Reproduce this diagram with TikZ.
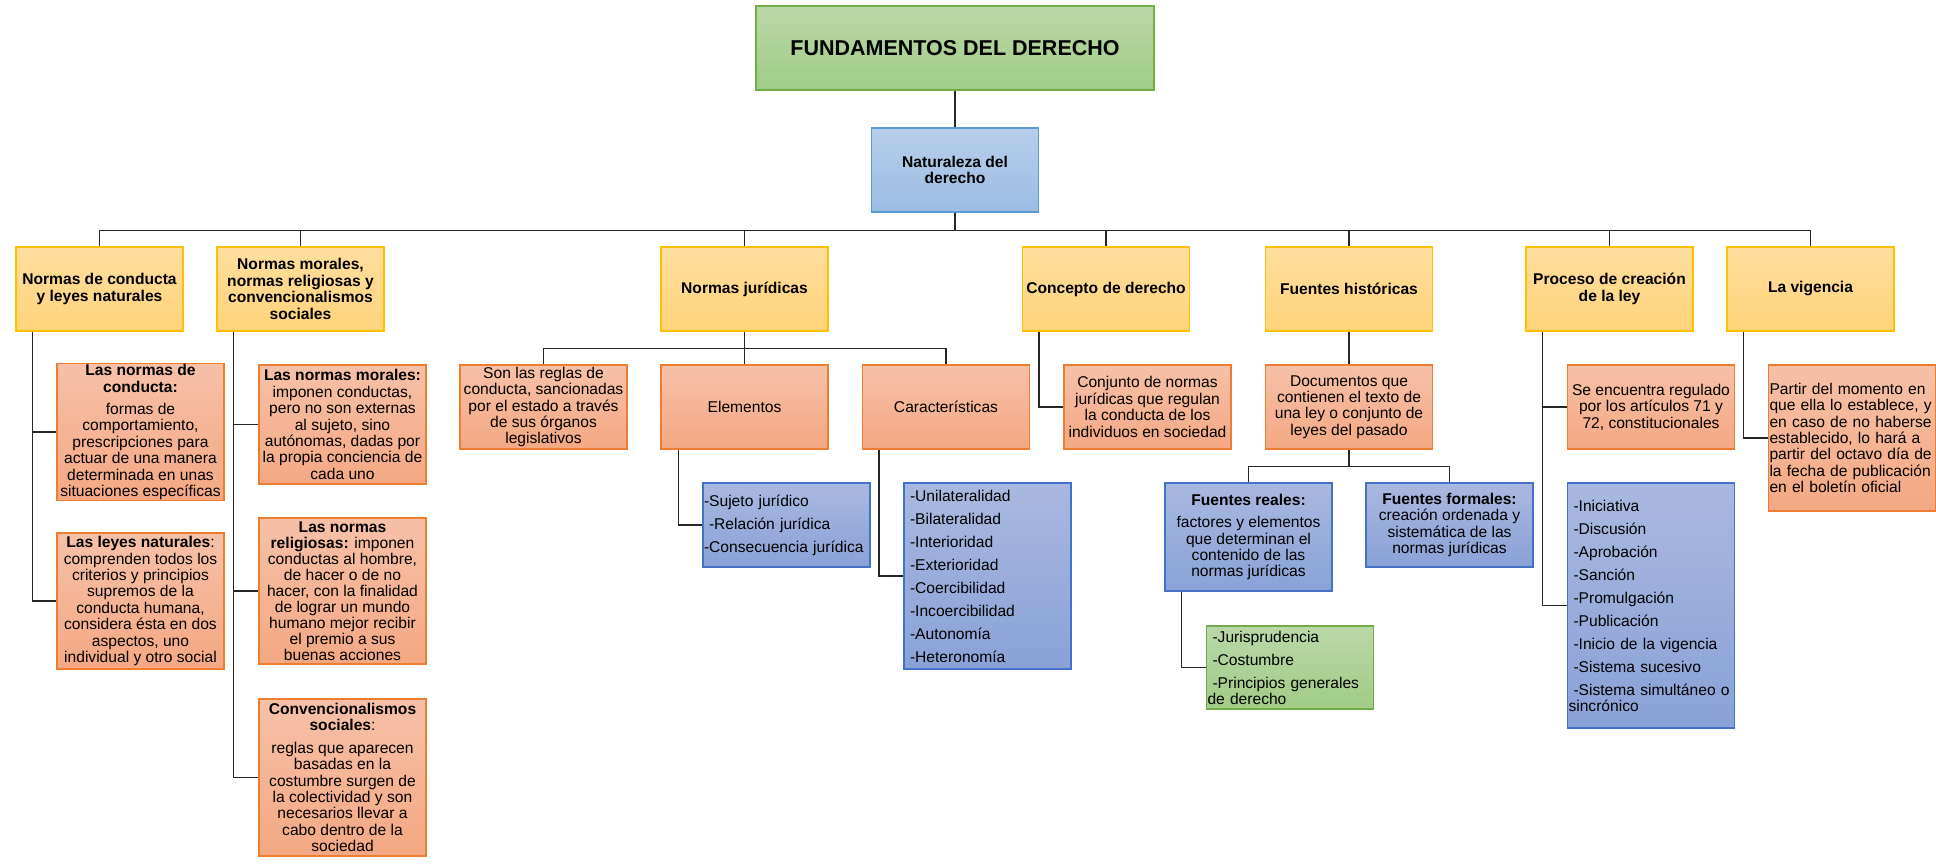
\documentclass[tikz,border=0pt]{standalone}
\usepackage{fontspec}
\setmainfont{Liberation Sans}
\usepackage{tikz}

\definecolor{amarilloA}{RGB}{255,222,158}
\definecolor{amarilloB}{RGB}{255,211,122}
\definecolor{amarilloL}{RGB}{255,192,0}
\definecolor{naranjaA}{RGB}{246,193,168}
\definecolor{naranjaB}{RGB}{244,168,131}
\definecolor{naranjaL}{RGB}{237,125,49}
\definecolor{azulA}{RGB}{169,184,224}
\definecolor{azulB}{RGB}{137,162,215}
\definecolor{azulL}{RGB}{68,114,196}
\definecolor{celesteA}{RGB}{183,206,235}
\definecolor{celesteB}{RGB}{155,189,228}
\definecolor{celesteL}{RGB}{91,155,213}
\definecolor{verdeA}{RGB}{186,216,168}
\definecolor{verdeB}{RGB}{160,204,134}
\definecolor{verdeL}{RGB}{112,173,71}

\newcommand{\sangria}{\hspace*{5pt}}

\tikzset{
  caja/.style={line width=1.2pt, inner sep=1pt, minimum width=167pt, minimum height=84pt,
    align=center, font=\fontsize{15.6}{16.4}\selectfont},
  amarilla/.style={caja, draw=amarilloL, top color=amarilloA, bottom color=amarilloB,
    font=\fontsize{15.6}{16.4}\selectfont\bfseries},
  naranja/.style={caja, draw=naranjaL, top color=naranjaA, bottom color=naranjaB},
  azul/.style={caja, draw=azulL, top color=azulA, bottom color=azulB},
  verde/.style={caja, draw=verdeL, top color=verdeA, bottom color=verdeB},
  lista/.style={align=left, text width=165pt, font=\fontsize{15.6}{23}\selectfont},
  linea/.style={draw=black!85, line width=1.5pt}
}

\begin{document}
\begin{tikzpicture}[x=1pt,y=-1pt]
\useasboundingbox (0,0) rectangle (1936,866);

\node[verde, minimum width=398pt, font=\fontsize{21.5}{24}\selectfont\bfseries] (F) at (955,48) {FUNDAMENTOS DEL DERECHO};
\node[caja, draw=celesteL, top color=celesteA, bottom color=celesteB, font=\fontsize{15.6}{16.4}\selectfont\bfseries] (N) at (955,170) {Naturaleza del\\derecho};
%
\node[amarilla] (NC) at (99.5,289) {Normas de conducta\\y leyes naturales};
\node[amarilla] (NM) at (300.5,289) {Normas morales,\\normas religiosas y\\convencionalismos\\sociales};
\node[amarilla] (NJ) at (744.5,289) {Normas jurídicas};
\node[amarilla] (CD) at (1106,289) {Concepto de derecho};
\node[amarilla] (FH) at (1349,289) {Fuentes históricas};
\node[amarilla] (PL) at (1609.5,289) {Proceso de creación\\de la ley};
\node[amarilla] (V) at (1810.5,289) {La vigencia};
%
\node[naranja, minimum height=134pt] (LNC) at (140.5,432) {\textbf{Las normas de}\\\textbf{conducta:}\\[6pt]formas de\\comportamiento,\\prescripciones para\\actuar de una manera\\determinada en unas\\situaciones específicas};
\node[naranja, minimum height=136pt] (LLN) at (140.5,601) {\textbf{Las leyes naturales}:\\comprenden todos los\\criterios y principios\\supremos de la\\conducta humana,\\considera ésta en dos\\aspectos, uno\\individual y otro social};
\node[naranja, minimum height=119pt] (LNM) at (342.5,424.5) {\textbf{Las normas morales:}\\imponen conductas,\\pero no son externas\\al sujeto, sino\\autónomas, dadas por\\la propia conciencia de\\cada uno};
\node[naranja, minimum height=146pt, font=\fontsize{15.6}{16}\selectfont] (LNR) at (342.5,591) {\textbf{Las normas}\\\textbf{religiosas:} imponen\\conductas al hombre,\\de hacer o de no\\hacer, con la finalidad\\de lograr un mundo\\humano mejor recibir\\el premio a sus\\buenas acciones};
\node[naranja, minimum height=157pt] (CS) at (342.5,777.5) {\textbf{Convencionalismos}\\\textbf{sociales}:\\[6pt]reglas que aparecen\\basadas en la\\costumbre surgen de\\la colectividad y son\\necesarios llevar a\\cabo dentro de la\\sociedad};
%
\node[naranja] (R) at (543.5,407) {Son las reglas de\\conducta, sancionadas\\por el estado a través\\de sus órganos\\legislativos};
\node[naranja] (E) at (744.5,407) {Elementos};
\node[naranja] (CA) at (946,407) {Características};
\node[azul, lista] (EL) at (786.5,525) {-Sujeto jurídico\\\sangria-Relación jurídica\\-Consecuencia jurídica};
\node[azul, lista, minimum height=186pt] (CL) at (987.5,576) {\sangria-Unilateralidad\\\sangria-Bilateralidad\\\sangria-Interioridad\\\sangria-Exterioridad\\\sangria-Coercibilidad\\\sangria-Incoercibilidad\\\sangria-Autonomía\\\sangria-Heteronomía};
%
\node[naranja] (CJ) at (1147.5,407) {Conjunto de normas\\jurídicas que regulan\\la conducta de los\\individuos en sociedad};
\node[naranja] (D) at (1349,407) {Documentos que\\contienen el texto de\\una ley o conjunto de\\leyes del pasado};
\node[azul, minimum height=108pt] (FR) at (1248.5,537) {\textbf{Fuentes reales:}\\[6pt]factores y elementos\\que determinan el\\contenido de las\\normas jurídicas};
\node[azul] (FF) at (1449.5,525) {\textbf{Fuentes formales:}\\creación ordenada y\\sistemática de las\\normas jurídicas};
\node[verde, lista, minimum height=83pt] (J) at (1290,667.5) {\sangria-Jurisprudencia\\\sangria-Costumbre\\\sangria-Principios generales\\[-7pt]de derecho};
%
\node[naranja] (SE) at (1651,407) {Se encuentra regulado\\por los artículos 71 y\\72, constitucionales};
\node[azul, lista, minimum height=245pt] (PLL) at (1651,605.5) {\sangria-Iniciativa\\\sangria-Discusión\\\sangria-Aprobación\\\sangria-Sanción\\\sangria-Promulgación\\\sangria-Publicación\\\sangria-Inicio de la vigencia\\\sangria-Sistema sucesivo\\\sangria-Sistema simultáneo o\\[-7pt]sincrónico};
\node[naranja, align=left, text width=165pt, minimum height=146pt] (P) at (1852,438) {Partir del momento en\\que ella lo establece, y\\en caso de no haberse\\establecido, lo hará a\\partir del octavo día de\\la fecha de publicación\\en el boletín oficial};
%
\path[linea] (F) -- (N);
\foreach \c in {NC,NM,NJ,CD,FH,PL,V}
  \draw[linea] (N.south) -- ++(0,18) -| (\c.north);
\draw[linea] ([xshift=17pt]NC.south west) |- (LNC.west);
\draw[linea] ([xshift=17pt]NC.south west) |- (LLN.west);
\draw[linea] ([xshift=17pt]NM.south west) |- (LNM.west);
\draw[linea] ([xshift=17pt]NM.south west) |- (LNR.west);
\draw[linea] ([xshift=17pt]NM.south west) |- (CS.west);
\foreach \c in {R,E,CA}
  \draw[linea] (NJ.south) -- ++(0,17) -| (\c.north);
\draw[linea] ([xshift=18pt]E.south west) |- (EL.west);
\draw[linea] ([xshift=17pt]CA.south west) |- (CL.west);
\draw[linea] ([xshift=17pt]CD.south west) |- (CJ.west);
\draw[linea] (FH) -- (D);
\foreach \c in {FR,FF}
  \draw[linea] (D.south) -- ++(0,17) -| (\c.north);
\draw[linea] ([xshift=17pt]FR.south west) |- (J.west);
\draw[linea] ([xshift=17pt]PL.south west) |- (SE.west);
\draw[linea] ([xshift=17pt]PL.south west) |- (PLL.west);
\draw[linea] ([xshift=17pt]V.south west) |- (P.west);
\end{tikzpicture}
\end{document}
